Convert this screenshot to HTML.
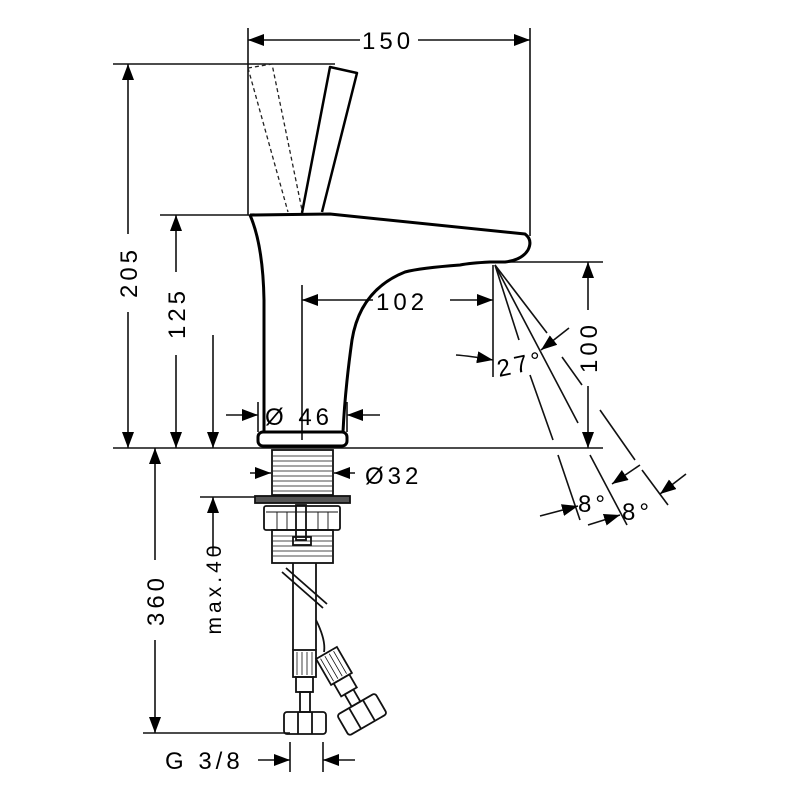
<!DOCTYPE html>
<html><head><style>
html,body{margin:0;padding:0;background:#fff;}
svg{display:block;}
text{font-family:"Liberation Sans",sans-serif;font-size:24px;fill:#000;letter-spacing:4px;}
</style></head><body>
<svg width="800" height="800" viewBox="0 0 800 800" xmlns="http://www.w3.org/2000/svg">
<defs>
<marker id="a" viewBox="0 0 16 12" refX="16" refY="6" markerWidth="16" markerHeight="12" markerUnits="userSpaceOnUse" orient="auto"><path d="M0,0L16,6L0,12z" fill="#000"/></marker>
</defs>
<g stroke="#111" stroke-width="1.6" fill="none">
<line x1="248" y1="28" x2="248" y2="215"/>
<line x1="530" y1="28" x2="530" y2="236"/>
<line x1="113" y1="64" x2="335" y2="64"/>
<line x1="160" y1="215" x2="252" y2="215"/>
<line x1="113" y1="448" x2="603" y2="448"/>
<line x1="494" y1="262" x2="603" y2="262"/>
<line x1="143" y1="733" x2="290" y2="733"/>
<line x1="200" y1="497" x2="258" y2="497"/>
<line x1="302" y1="285" x2="302" y2="440"/>
<line x1="493" y1="265" x2="493" y2="377"/>
<line x1="290" y1="742" x2="290" y2="772"/>
<line x1="323" y1="742" x2="323" y2="772"/>
<line x1="360" y1="40" x2="248" y2="40" marker-end="url(#a)"/>
<line x1="418" y1="40" x2="530" y2="40" marker-end="url(#a)"/>
<line x1="128" y1="234" x2="128" y2="64" marker-end="url(#a)"/>
<line x1="128" y1="312" x2="128" y2="448" marker-end="url(#a)"/>
<line x1="176" y1="272" x2="176" y2="215" marker-end="url(#a)"/>
<line x1="176" y1="355" x2="176" y2="448" marker-end="url(#a)"/>
<line x1="213" y1="335" x2="213" y2="448" marker-end="url(#a)"/>
<line x1="213" y1="555" x2="213" y2="497" marker-end="url(#a)"/>
<line x1="155" y1="560" x2="155" y2="448" marker-end="url(#a)"/>
<line x1="155" y1="640" x2="155" y2="733" marker-end="url(#a)"/>
<line x1="373" y1="300" x2="302" y2="300" marker-end="url(#a)"/>
<line x1="450" y1="300" x2="493" y2="300" marker-end="url(#a)"/>
<line x1="588" y1="310" x2="588" y2="262" marker-end="url(#a)"/>
<line x1="588" y1="386" x2="588" y2="448" marker-end="url(#a)"/>
<path d="M456,355 Q470,356 493,360" marker-end="url(#a)"/>
<line x1="569" y1="328" x2="541" y2="350" marker-end="url(#a)"/>
<line x1="495" y1="265" x2="519" y2="340"/>
<line x1="530" y1="375" x2="553" y2="440"/>
<line x1="558" y1="455" x2="580" y2="520"/>
<line x1="495" y1="265" x2="578" y2="423"/>
<line x1="590" y1="455" x2="627" y2="525"/>
<line x1="495" y1="265" x2="547" y2="333"/>
<line x1="562" y1="357" x2="582" y2="385"/>
<line x1="600" y1="410" x2="635" y2="460"/>
<line x1="642" y1="470" x2="668" y2="505"/>
<line x1="540" y1="516" x2="578" y2="506" marker-end="url(#a)"/>
<line x1="588" y1="525" x2="620" y2="515" marker-end="url(#a)"/>
<line x1="640" y1="465" x2="612" y2="484" marker-end="url(#a)"/>
<line x1="686" y1="474" x2="660" y2="494" marker-end="url(#a)"/>
<line x1="226" y1="415" x2="258" y2="415" marker-end="url(#a)"/>
<line x1="380" y1="415" x2="347" y2="415" marker-end="url(#a)"/>
<line x1="258" y1="402" x2="258" y2="432"/>
<line x1="347" y1="402" x2="347" y2="432"/>
<line x1="250" y1="473" x2="271" y2="473" marker-end="url(#a)"/>
<line x1="355" y1="473" x2="334" y2="473" marker-end="url(#a)"/>
<line x1="258" y1="760" x2="290" y2="760" marker-end="url(#a)"/>
<line x1="355" y1="760" x2="323" y2="760" marker-end="url(#a)"/>
</g>
<g stroke="#000" stroke-width="3" fill="none" stroke-linejoin="round">
<path d="M250,215 L330,214 L525,234 Q533,240 528,250 Q522,260 505,262 L490,262 Q470,263 460,265 Q420,268 405,272 Q360,290 352,340 Q345,390 343,432"/>
<path d="M250,215 Q263,245 264,300 L264,432"/>
<path d="M302,213 L330,67 L357,73 L322,212" stroke-width="2.5"/>
<rect x="258" y="432" width="89" height="14" rx="5"/>
</g>
<path d="M248,68 L272,64 L302,210 M248,68 L288,212" stroke="#222" stroke-width="1.3" stroke-dasharray="4,3" fill="none"/>
<g stroke="#111" stroke-width="1.8" fill="none">
<rect x="272" y="450" width="61" height="45"/>
<path d="M273,456H332M273,461H332M273,466H332M273,471H332M273,476H332M273,481H332M273,486H332M273,491H332" stroke-width="0.8"/>
<rect x="255" y="496" width="95" height="7" fill="#555"/>
<rect x="264" y="506" width="76" height="24" rx="2"/>
<path d="M266,512H338M277,512V530M287,512V530M318,512V530M328,512V530" stroke-width="0.9"/>
<rect x="272" y="530" width="61" height="33"/>
<path d="M273,536H332M273,541H332M273,546H332M273,551H332M273,556H332" stroke-width="0.8"/>
<rect x="296" y="505" width="10" height="35"/>
<rect x="293" y="537" width="18" height="8"/>
<line x1="293" y1="563" x2="293" y2="650"/>
<line x1="316" y1="563" x2="316" y2="612"/>
<line x1="282" y1="572" x2="323" y2="608"/>
<line x1="286" y1="568" x2="327" y2="604"/>
<path d="M316,620 Q326,640 324,652"/>
<line x1="316" y1="612" x2="316" y2="650"/>
<rect x="293" y="650" width="23" height="27"/>
<path d="M297,652V675M302,652V675M307,652V675M312,652V675" stroke-width="0.8"/>
<rect x="296" y="677" width="17" height="15"/>
<rect x="300" y="692" width="10" height="20"/>
<rect x="284" y="712" width="42" height="22" rx="3"/>
<line x1="298" y1="712" x2="298" y2="734"/><line x1="312" y1="712" x2="312" y2="734"/>
<g transform="rotate(-30 345 685)">
<rect x="333" y="648" width="24" height="30"/>
<path d="M337,650V676M342,650V676M347,650V676M352,650V676" stroke-width="0.8"/>
<rect x="336" y="678" width="18" height="15"/>
<rect x="340" y="693" width="10" height="14"/>
<rect x="323" y="707" width="44" height="24" rx="3"/>
<line x1="337" y1="707" x2="337" y2="731"/><line x1="353" y1="707" x2="353" y2="731"/>
</g>
</g>
<text x="362" y="49">150</text>
<text x="376" y="310">102</text>
<text transform="translate(137,272) rotate(-90)" text-anchor="middle">205</text>
<text transform="translate(185,313) rotate(-90)" text-anchor="middle">125</text>
<text transform="translate(164,600) rotate(-90)" text-anchor="middle">360</text>
<text transform="translate(221,588) rotate(-90)" text-anchor="middle" style="font-size:21px">max.40</text>
<text transform="translate(597,347) rotate(-90)" text-anchor="middle">100</text>
<text x="497" y="374" transform="rotate(-12 512 366)">27°</text>
<text x="578" y="512">8°</text>
<text x="622" y="520">8°</text>
<text x="265" y="425">Ø 46</text>
<text x="365" y="484">Ø32</text>
<text x="165" y="769">G 3/8</text>
</svg>
</body></html>
